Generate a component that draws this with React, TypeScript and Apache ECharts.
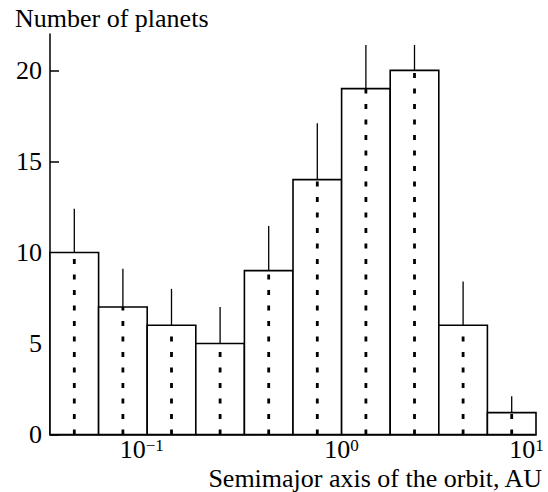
import React, { useEffect, useRef } from "react";
import * as echarts from "echarts";

// Histogram bins on log10(a / AU), 0.25 dex wide
const binEdgesLog = [-1.5, -1.25, -1.0, -0.75, -0.5, -0.25, 0, 0.25, 0.5, 0.75, 1.0];
// Number of planets per bin
const planetCounts = [10, 7, 6, 5, 9, 14, 19, 20, 6, 1.2];
// Upper end of each error bar
const errorUpper = [12.4, 9.1, 8.0, 7.0, 11.45, 17.1, 21.4, 21.4, 8.4, 2.1];
// Axis tick values
const yTickValues = [0, 5, 10, 15, 20];
const xTickExponents = [-1, 0, 1];

const yTitle = "Number of planets";
const xTitle = "Semimajor axis of the orbit, AU";

const FONT = "Liberation Serif";

export default function App() {
  const ref = useRef<HTMLDivElement>(null);

  useEffect(() => {
    if (!ref.current) return;
    const chart = echarts.init(ref.current, null, { renderer: "svg" });

    const rows = planetCounts.map((n, i) => [binEdgesLog[i], binEdgesLog[i + 1], n, errorUpper[i]]);

    const supToken = (padRight: number) => ({
      fontSize: 17,
      fontFamily: FONT,
      color: "#000",
      verticalAlign: "top",
      padding: [0, padRight, 0, 0],
    });

    chart.setOption({
      animation: false,
      backgroundColor: "#fff",
      textStyle: { fontFamily: FONT },
      grid: { left: 50, right: 12, top: 34, bottom: 57.5, containLabel: false, outerBoundsMode: "none" },
      xAxis: {
        type: "value",
        min: -1.5,
        max: 1,
        interval: 0.5,
        splitLine: { show: false },
        axisTick: { show: false },
        axisLine: { show: true, onZero: false, lineStyle: { color: "#000", width: 1.5 } },
        axisLabel: {
          customValues: xTickExponents,
          margin: 2,
          color: "#000",
          fontFamily: FONT,
          formatter: (v: number) => {
            const e = Math.round(v);
            const exp = e < 0 ? "\u2212" + Math.abs(e) : String(e);
            const tok = e < 0 ? "sa" : e > 0 ? "sb" : "s";
            return `{m|10}{${tok}|${exp}}`;
          },
          rich: {
            m: { fontSize: 26, fontFamily: FONT, color: "#000", lineHeight: 26 },
            s: supToken(0),
            sa: supToken(11),
            sb: supToken(19),
          },
        },
      },
      yAxis: {
        type: "value",
        min: 0,
        max: 22,
        interval: 5,
        splitLine: { show: false },
        axisLine: { show: true, onZero: false, lineStyle: { color: "#000", width: 1.5 } },
        axisTick: {
          show: true,
          inside: true,
          length: 9,
          customValues: yTickValues,
          lineStyle: { color: "#000", width: 1.5 },
        },
        axisLabel: {
          customValues: yTickValues,
          margin: 8,
          color: "#000",
          fontSize: 26,
          fontFamily: FONT,
        },
      },
      graphic: [
        {
          type: "text",
          x: 15,
          y: 18.7,
          style: {
            text: yTitle,
            fontSize: 26,
            fontFamily: FONT,
            fill: "#000",
            align: "left",
            verticalAlign: "middle",
          },
        },
        {
          type: "text",
          x: 542,
          y: 478.5,
          style: {
            text: xTitle,
            fontSize: 26,
            fontFamily: FONT,
            fill: "#000",
            align: "right",
            verticalAlign: "middle",
          },
        },
      ],
      series: [
        {
          type: "custom",
          data: rows,
          encode: { x: [0, 1], y: [2, 3] },
          clip: false,
          renderItem: (_params: any, api: any) => {
            const lo = api.value(0);
            const hi = api.value(1);
            const n = api.value(2);
            const up = api.value(3);
            const mid = (lo + hi) / 2;
            const bl = api.coord([lo, 0]);
            const tr = api.coord([hi, n]);
            const cb = api.coord([mid, 0]);
            const ct = api.coord([mid, n]);
            const ce = api.coord([mid, up]);
            return {
              type: "group",
              children: [
                {
                  type: "rect",
                  shape: { x: bl[0], y: tr[1], width: tr[0] - bl[0], height: bl[1] - tr[1] },
                  style: { fill: "#fff", stroke: "#000", lineWidth: 1.6 },
                },
                {
                  type: "line",
                  shape: { x1: cb[0], y1: cb[1], x2: ct[0], y2: ct[1] },
                  style: { stroke: "#000", lineWidth: 2.8, lineDash: [5, 10.5] },
                },
                {
                  type: "line",
                  shape: { x1: ct[0], y1: ct[1], x2: ce[0], y2: ce[1] },
                  style: { stroke: "#000", lineWidth: 1.3 },
                },
              ],
            };
          },
        },
      ],
    });

    return () => chart.dispose();
  }, []);

  return (
    <div
      ref={ref}
      style={{ position: "fixed", left: 0, top: 0, width: 548, height: 492, background: "#fff" }}
    />
  );
}
